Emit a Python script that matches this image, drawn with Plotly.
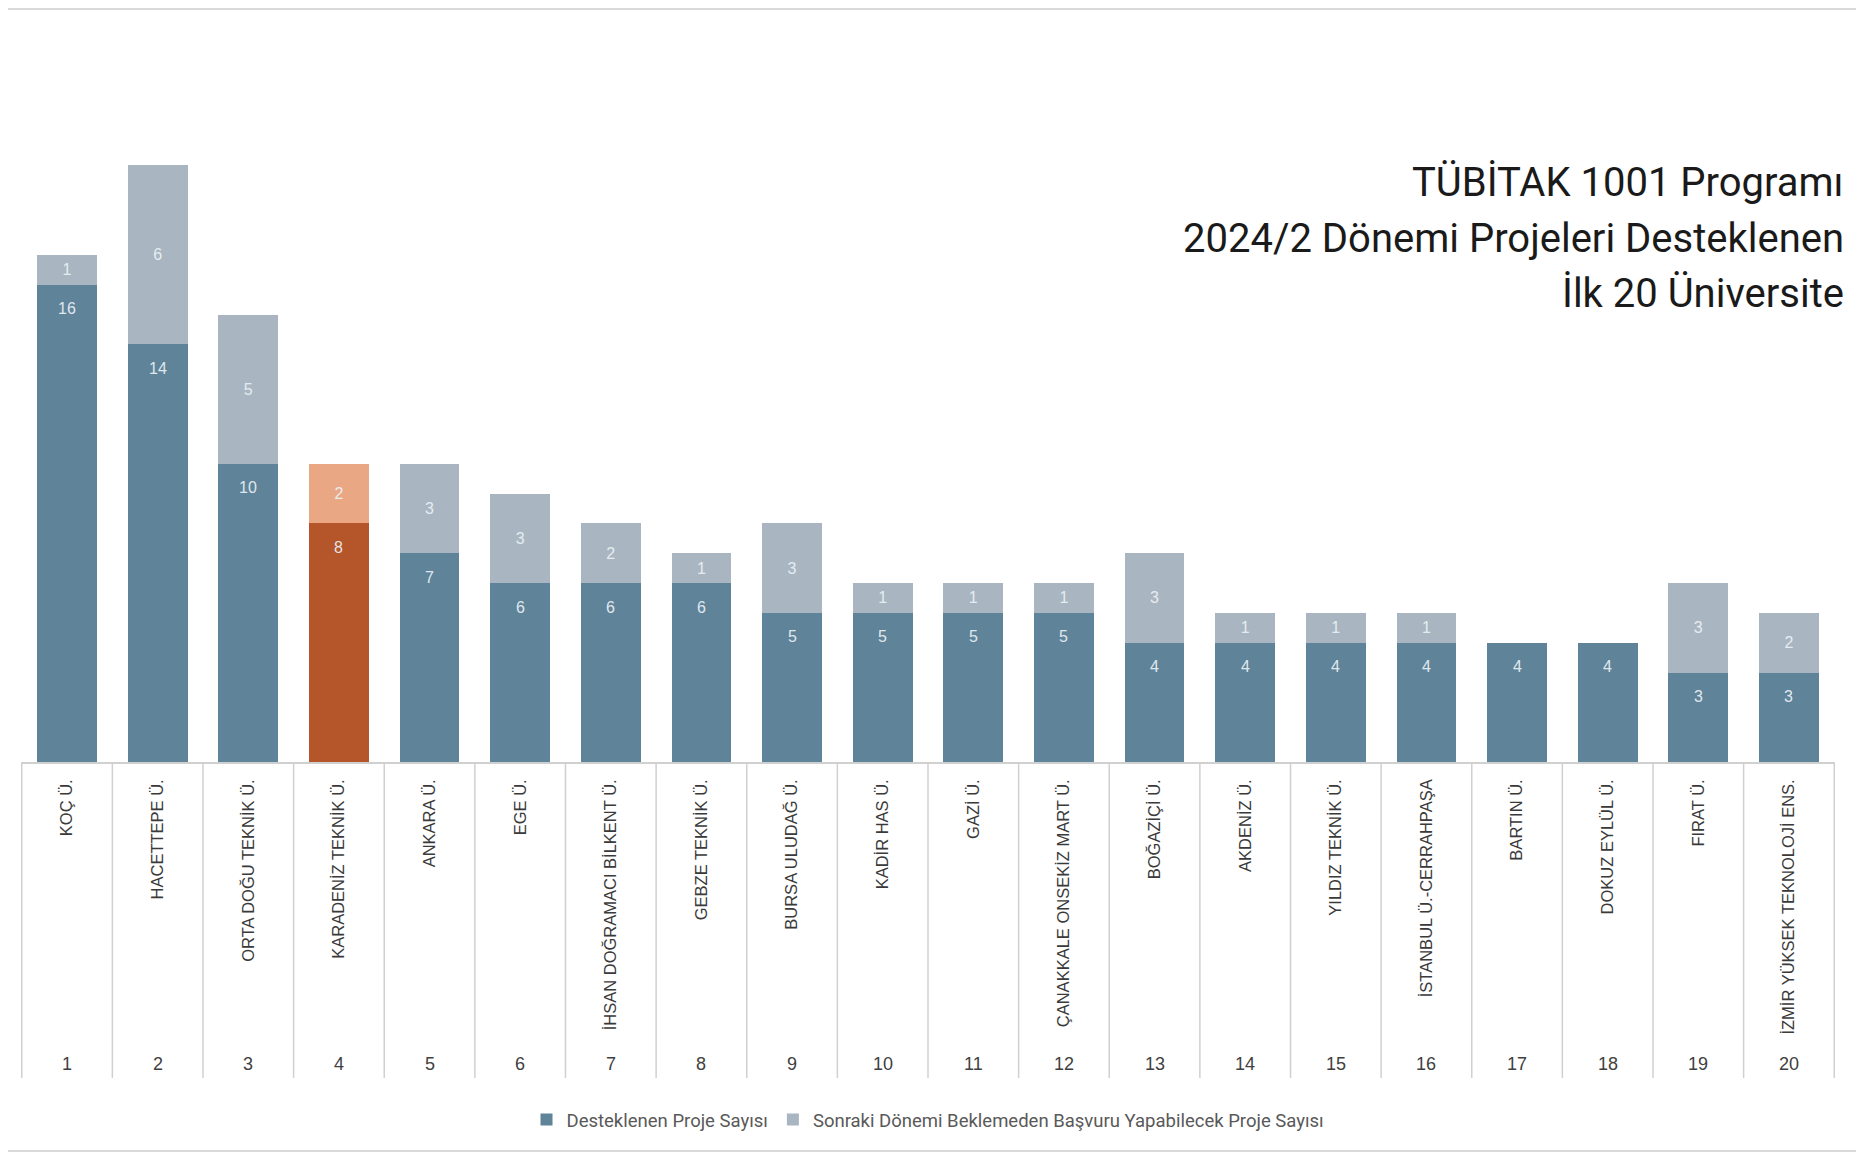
import plotly.graph_objects as go

universities = [
    "KOÇ Ü.", "HACETTEPE Ü.", "ORTA DOĞU TEKNİK Ü.", "KARADENİZ TEKNİK Ü.", "ANKARA Ü.",
    "EGE Ü.", "İHSAN DOĞRAMACI BİLKENT Ü.", "GEBZE TEKNİK Ü.", "BURSA ULUDAĞ Ü.", "KADİR HAS Ü.",
    "GAZİ Ü.", "ÇANAKKALE ONSEKİZ MART Ü.", "BOĞAZİÇİ Ü.", "AKDENİZ Ü.", "YILDIZ TEKNİK Ü.",
    "İSTANBUL Ü.-CERRAHPAŞA", "BARTIN Ü.", "DOKUZ EYLÜL Ü.", "FIRAT Ü.", "İZMİR YÜKSEK TEKNOLOJİ ENS.",
]
ranks = list(range(1, 21))
supported = [16, 14, 10, 8, 7, 6, 6, 6, 5, 5, 5, 5, 4, 4, 4, 4, 4, 4, 3, 3]
can_apply = [1, 6, 5, 2, 3, 3, 2, 1, 3, 1, 1, 1, 3, 1, 1, 1, 0, 0, 3, 2]
highlight = "KARADENİZ TEKNİK Ü."

series_names = ["Desteklenen Proje Sayısı",
                "Sonraki Dönemi Beklemeden Başvuru Yapabilecek Proje Sayısı"]
title_lines = ["TÜBİTAK 1001 Programı", "2024/2 Dönemi Projeleri Desteklenen", "İlk 20 Üniversite"]

DARK = "#5f8499"
LIGHT = "#a9b6c1"
DARK_HI = "#b4552a"
LIGHT_HI = "#e9a784"
LABEL_COLOR = "rgba(236,242,247,0.93)"

# page body has an 8px margin; figure sized to fit the viewport
W, H = 1856, 1152
ML, MR, MT, MB = 13, 29, 38, 398
plot_h = H - MT - MB
plot_w = W - ML - MR
BASE_PAGE_Y = 762
LEFT_PAGE_X = 21


def py(pix):
    """page pixel y -> paper coordinate"""
    return (BASE_PAGE_Y - pix) / plot_h


def px(pix):
    """page pixel x -> paper coordinate"""
    return (pix - LEFT_PAGE_X) / plot_w


c1 = [DARK_HI if u == highlight else DARK for u in universities]
c2 = [LIGHT_HI if u == highlight else LIGHT for u in universities]

fig = go.Figure()
fig.add_trace(go.Bar(
    x=universities, y=supported, name=series_names[0],
    marker=dict(color=c1, line=dict(width=0)),
    hoverinfo="x+y",
))
fig.add_trace(go.Bar(
    x=universities, y=can_apply, name=series_names[1],
    marker=dict(color=c2, line=dict(width=0)),
    text=[str(v) if v else "" for v in can_apply], textposition="inside", insidetextanchor="middle",
    textfont=dict(color=LABEL_COLOR, size=16, family="Liberation Sans"),
    textangle=0,
))

shapes = []
for i in range(len(universities) + 1):
    shapes.append(dict(type="line", xref="x", yref="paper", x0=i - 0.5, x1=i - 0.5,
                       y0=0, y1=py(1078), line=dict(color="#d0d0d0", width=1.5)))
shapes.append(dict(type="rect", xref="paper", yref="paper", x0=px(0), x1=px(1857),
                   y0=py(1151), y1=py(9), line=dict(color="#d9d9d9", width=2), layer="below"))

annotations = []
# value labels for the supported series, near the top of each dark segment
for u, v in zip(universities, supported):
    annotations.append(dict(x=u, xref="x", y=v, yref="y", text=str(v), showarrow=False,
                            xanchor="center", yanchor="middle", yshift=-24,
                            font=dict(size=16, color=LABEL_COLOR, family="Liberation Sans")))
for u, r in zip(universities, ranks):
    annotations.append(dict(x=u, xref="x", y=py(1064), yref="paper", text=str(r), showarrow=False,
                            xanchor="center", yanchor="middle",
                            font=dict(size=18, color="#404040", family="Liberation Sans")))
for line, ypix in zip(title_lines, [182, 238, 293]):
    annotations.append(dict(xref="paper", yref="paper", x=px(1846), y=py(ypix), text=line,
                            showarrow=False, xanchor="right", yanchor="middle", align="right",
                            font=dict(size=40, color="#1a1a1a", family="Roboto")))

fig.update_layout(
    width=W, height=H,
    margin=dict(l=ML, r=MR, t=MT, b=MB),
    barmode="stack", bargap=0.34,
    plot_bgcolor="white", paper_bgcolor="white",
    showlegend=True,
    legend=dict(orientation="h", x=0.5, xanchor="center", y=py(1120), yanchor="middle",
                font=dict(size=18.5, color="#595959", family="Roboto"), traceorder="normal",
                itemwidth=30),
    shapes=shapes,
    annotations=annotations,
    uniformtext=dict(minsize=8, mode="show"),
)
fig.update_xaxes(type="category", tickangle=-90, ticks="", showline=True, linecolor="#d0d0d0",
                 linewidth=1.5, tickfont=dict(size=16.5, color="#3a3a3a", family="Liberation Sans"),
                 ticklabelstandoff=9, showgrid=False)
fig.update_yaxes(range=[0, 24], visible=False, showgrid=False, zeroline=False)

fig.write_html("out.html")
